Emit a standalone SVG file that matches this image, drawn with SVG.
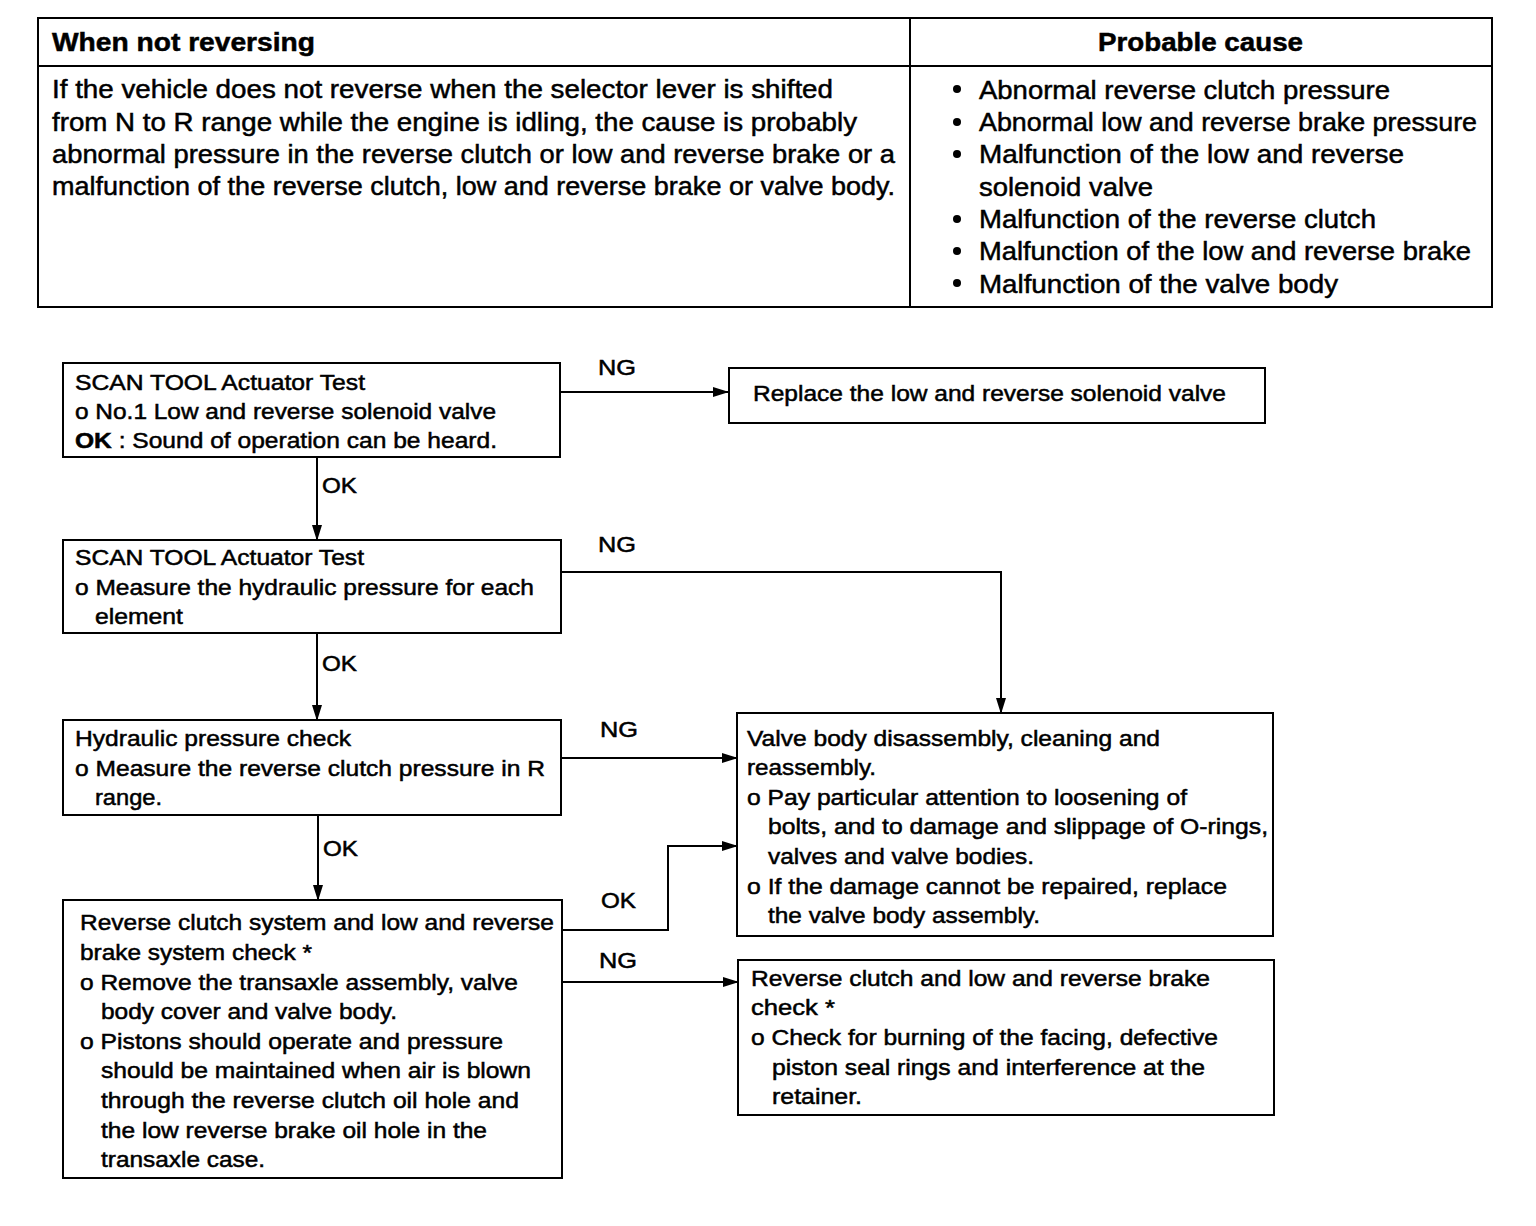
<svg xmlns="http://www.w3.org/2000/svg" width="1536" height="1226" viewBox="0 0 1536 1226">
<style>
text{font-family:"Liberation Sans",Arial,sans-serif;fill:#000;stroke:#000;stroke-width:0.5}
.t{font-size:26px}
.h{font-size:26px;font-weight:bold}
.f{font-size:22px}
.lb{font-size:22px}
.box{fill:#fff;stroke:#000;stroke-width:2}
.ln{fill:none;stroke:#000;stroke-width:2}
</style>
<defs>
<marker id="ah" markerWidth="16" markerHeight="12" refX="15" refY="6" orient="auto" markerUnits="userSpaceOnUse">
<path d="M0,1 L16,6 L0,11 Z" fill="#000"/>
</marker>
</defs>
<rect width="1536" height="1226" fill="#fff"/>

<g id="table">
<rect x="38" y="18" width="1454" height="289" class="box"/>
<line x1="38" y1="66" x2="1492" y2="66" class="ln"/>
<line x1="910" y1="18" x2="910" y2="307" class="ln"/>
<text x="52" y="51" class="h" textLength="263" lengthAdjust="spacingAndGlyphs">When not reversing</text>
<text x="1098" y="51" class="h" textLength="205" lengthAdjust="spacingAndGlyphs">Probable cause</text>
<text x="52" y="98" class="t" textLength="781" lengthAdjust="spacingAndGlyphs">If the vehicle does not reverse when the selector lever is shifted</text>
<text x="52" y="131" class="t" textLength="805" lengthAdjust="spacingAndGlyphs">from N to R range while the engine is idling, the cause is probably</text>
<text x="52" y="163" class="t" textLength="843" lengthAdjust="spacingAndGlyphs">abnormal pressure in the reverse clutch or low and reverse brake or a</text>
<text x="52" y="195" class="t" textLength="843" lengthAdjust="spacingAndGlyphs">malfunction of the reverse clutch, low and reverse brake or valve body.</text>
<g fill="#000">
<circle cx="957" cy="89" r="4"/>
<circle cx="957" cy="122" r="4"/>
<circle cx="957" cy="154" r="4"/>
<circle cx="957" cy="219" r="4"/>
<circle cx="957" cy="251" r="4"/>
<circle cx="957" cy="283" r="4"/>
</g>
<text x="979" y="99" class="t" textLength="411" lengthAdjust="spacingAndGlyphs">Abnormal reverse clutch pressure</text>
<text x="979" y="131" class="t" textLength="498" lengthAdjust="spacingAndGlyphs">Abnormal low and reverse brake pressure</text>
<text x="979" y="163" class="t" textLength="425" lengthAdjust="spacingAndGlyphs">Malfunction of the low and reverse</text>
<text x="979" y="196" class="t" textLength="174" lengthAdjust="spacingAndGlyphs">solenoid valve</text>
<text x="979" y="228" class="t" textLength="397" lengthAdjust="spacingAndGlyphs">Malfunction of the reverse clutch</text>
<text x="979" y="260" class="t" textLength="492" lengthAdjust="spacingAndGlyphs">Malfunction of the low and reverse brake</text>
<text x="979" y="293" class="t" textLength="359" lengthAdjust="spacingAndGlyphs">Malfunction of the valve body</text>
</g>

<g id="connectors">
<line x1="560" y1="392" x2="728" y2="392" class="ln" marker-end="url(#ah)"/>
<line x1="317" y1="457" x2="317" y2="540" class="ln" marker-end="url(#ah)"/>
<polyline points="561,572 1001,572 1001,713" class="ln" marker-end="url(#ah)"/>
<line x1="317" y1="633" x2="317" y2="720" class="ln" marker-end="url(#ah)"/>
<line x1="561" y1="758" x2="737" y2="758" class="ln" marker-end="url(#ah)"/>
<line x1="318" y1="815" x2="318" y2="900" class="ln" marker-end="url(#ah)"/>
<polyline points="562,930 668,930 668,846 737,846" class="ln" marker-end="url(#ah)"/>
<line x1="562" y1="982" x2="738" y2="982" class="ln" marker-end="url(#ah)"/>
<text x="598" y="375" class="lb" textLength="38" lengthAdjust="spacingAndGlyphs">NG</text>
<text x="322" y="493" class="lb" textLength="35" lengthAdjust="spacingAndGlyphs">OK</text>
<text x="598" y="552" class="lb" textLength="38" lengthAdjust="spacingAndGlyphs">NG</text>
<text x="322" y="671" class="lb" textLength="35" lengthAdjust="spacingAndGlyphs">OK</text>
<text x="600" y="737" class="lb" textLength="38" lengthAdjust="spacingAndGlyphs">NG</text>
<text x="323" y="856" class="lb" textLength="35" lengthAdjust="spacingAndGlyphs">OK</text>
<text x="601" y="908" class="lb" textLength="35" lengthAdjust="spacingAndGlyphs">OK</text>
<text x="599" y="968" class="lb" textLength="38" lengthAdjust="spacingAndGlyphs">NG</text>
</g>

<g id="n1">
<rect x="63" y="363" width="497" height="94" class="box"/>
<text x="75" y="390" class="f" textLength="290" lengthAdjust="spacingAndGlyphs">SCAN TOOL Actuator Test</text>
<text x="75" y="419" class="f" textLength="421" lengthAdjust="spacingAndGlyphs">o No.1 Low and reverse solenoid valve</text>
<text x="75" y="448" class="f" textLength="422" lengthAdjust="spacingAndGlyphs"><tspan font-weight="bold">OK</tspan> : Sound of operation can be heard.</text>
</g>

<g id="n2">
<rect x="729" y="368" width="536" height="55" class="box"/>
<text x="753" y="401" class="f" textLength="473" lengthAdjust="spacingAndGlyphs">Replace the low and reverse solenoid valve</text>
</g>

<g id="n3">
<rect x="63" y="540" width="498" height="93" class="box"/>
<text x="75" y="565" class="f" textLength="289" lengthAdjust="spacingAndGlyphs">SCAN TOOL Actuator Test</text>
<text x="75" y="595" class="f" textLength="459" lengthAdjust="spacingAndGlyphs">o Measure the hydraulic pressure for each</text>
<text x="95" y="624" class="f" textLength="88" lengthAdjust="spacingAndGlyphs">element</text>
</g>

<g id="n4">
<rect x="63" y="720" width="498" height="95" class="box"/>
<text x="75" y="746" class="f" textLength="276" lengthAdjust="spacingAndGlyphs">Hydraulic pressure check</text>
<text x="75" y="776" class="f" textLength="470" lengthAdjust="spacingAndGlyphs">o Measure the reverse clutch pressure in R</text>
<text x="95" y="805" class="f" textLength="67" lengthAdjust="spacingAndGlyphs">range.</text>
</g>

<g id="n5">
<rect x="737" y="713" width="536" height="223" class="box"/>
<text x="747" y="746" class="f" textLength="413" lengthAdjust="spacingAndGlyphs">Valve body disassembly, cleaning and</text>
<text x="747" y="775" class="f" textLength="129" lengthAdjust="spacingAndGlyphs">reassembly.</text>
<text x="747" y="805" class="f" textLength="440" lengthAdjust="spacingAndGlyphs">o Pay particular attention to loosening of</text>
<text x="768" y="834" class="f" textLength="500" lengthAdjust="spacingAndGlyphs">bolts, and to damage and slippage of O-rings,</text>
<text x="768" y="864" class="f" textLength="266" lengthAdjust="spacingAndGlyphs">valves and valve bodies.</text>
<text x="747" y="894" class="f" textLength="480" lengthAdjust="spacingAndGlyphs">o If the damage cannot be repaired, replace</text>
<text x="768" y="923" class="f" textLength="272" lengthAdjust="spacingAndGlyphs">the valve body assembly.</text>
</g>

<g id="n6">
<rect x="63" y="900" width="499" height="278" class="box"/>
<text x="80" y="930" class="f" textLength="474" lengthAdjust="spacingAndGlyphs">Reverse clutch system and low and reverse</text>
<text x="80" y="960" class="f" textLength="232" lengthAdjust="spacingAndGlyphs">brake system check *</text>
<text x="80" y="990" class="f" textLength="438" lengthAdjust="spacingAndGlyphs">o Remove the transaxle assembly, valve</text>
<text x="101" y="1019" class="f" textLength="296" lengthAdjust="spacingAndGlyphs">body cover and valve body.</text>
<text x="80" y="1049" class="f" textLength="423" lengthAdjust="spacingAndGlyphs">o Pistons should operate and pressure</text>
<text x="101" y="1078" class="f" textLength="430" lengthAdjust="spacingAndGlyphs">should be maintained when air is blown</text>
<text x="101" y="1108" class="f" textLength="418" lengthAdjust="spacingAndGlyphs">through the reverse clutch oil hole and</text>
<text x="101" y="1138" class="f" textLength="386" lengthAdjust="spacingAndGlyphs">the low reverse brake oil hole in the</text>
<text x="101" y="1167" class="f" textLength="164" lengthAdjust="spacingAndGlyphs">transaxle case.</text>
</g>

<g id="n7">
<rect x="738" y="960" width="536" height="155" class="box"/>
<text x="751" y="986" class="f" textLength="459" lengthAdjust="spacingAndGlyphs">Reverse clutch and low and reverse brake</text>
<text x="751" y="1015" class="f" textLength="84" lengthAdjust="spacingAndGlyphs">check *</text>
<text x="751" y="1045" class="f" textLength="467" lengthAdjust="spacingAndGlyphs">o Check for burning of the facing, defective</text>
<text x="772" y="1075" class="f" textLength="433" lengthAdjust="spacingAndGlyphs">piston seal rings and interference at the</text>
<text x="772" y="1104" class="f" textLength="90" lengthAdjust="spacingAndGlyphs">retainer.</text>
</g>
</svg>
